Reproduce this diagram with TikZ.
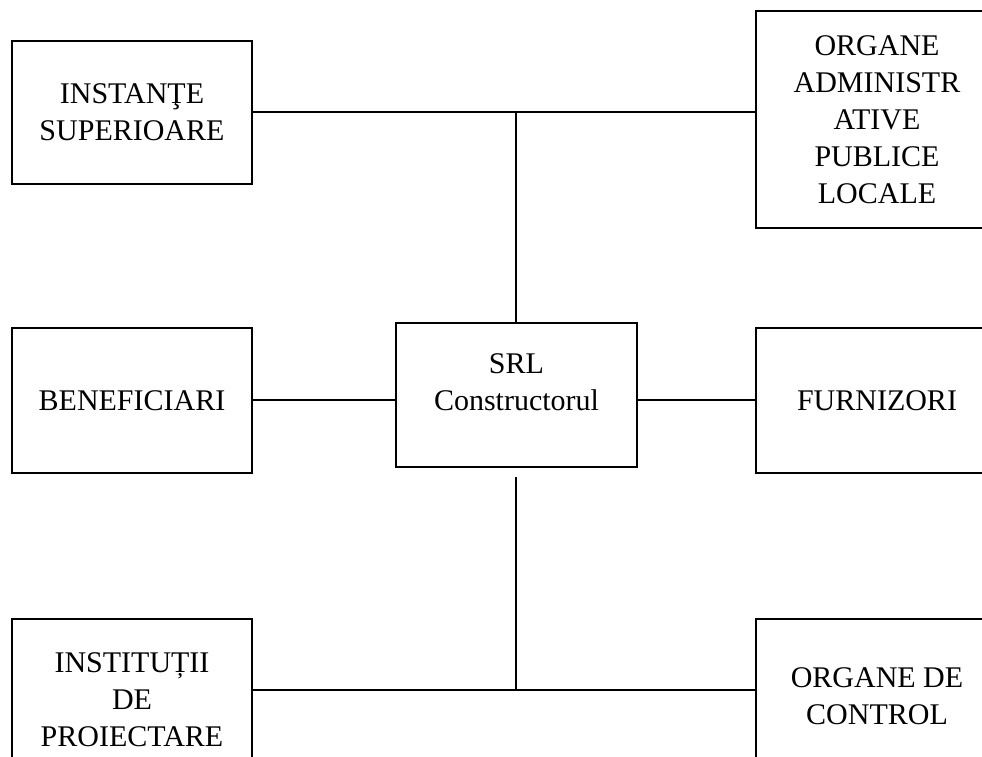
\documentclass[tikz,border=0pt]{standalone}
\usepackage{fontspec}
\setmainfont{Liberation Serif}
\begin{document}
\begin{tikzpicture}[x=1pt,y=-1pt,
  box/.style={draw=black, line width=1.4pt, rectangle, inner sep=0pt, align=center,
    font=\fontsize{30}{37}\selectfont},
  lbl/.style={inner sep=0pt, align=center, font=\fontsize{30}{37}\selectfont},
  conn/.style={draw=black, line width=1.4pt}]
\useasboundingbox (0,0) rectangle (982,757);
\clip (0,0) rectangle (982,757);
% top row
\node[box, minimum width=240pt, minimum height=143pt] (ins) at (132,112.5) {INSTANŢE\\SUPERIOARE};
\node[box, minimum width=242pt, minimum height=217pt] (oap) at (877,119.5) {ORGANE\\ADMINISTR\\ATIVE\\PUBLICE\\LOCALE};
% middle row
\node[box, minimum width=240pt, minimum height=145pt] (ben) at (132,400.5) {BENEFICIARI};
\node[box, minimum width=241pt, minimum height=144pt] (srl) at (516.5,395) {};
\node[lbl] (srltext) at (516.5,382) {SRL\\Constructorul};
\node[box, minimum width=242pt, minimum height=145pt] (fur) at (877,400.5) {FURNIZORI};
% bottom row
\node[box, minimum width=240pt, minimum height=161pt] (inp) at (132,699.5) {INSTITUȚII\\DE\\PROIECTARE};
\node[box, minimum width=242pt, minimum height=155pt] (oc) at (877,696.5) {ORGANE DE\\CONTROL};
% connectors
\coordinate (tj) at (516,112);
\coordinate (bs) at (516,477);
\coordinate (bj) at (516,690);
\draw[conn] (ins.east |- tj) -- (oap.west |- tj);
\draw[conn] (tj) -- (tj |- srl.north);
\draw[conn] (ben.east |- 0,400) -- (srl.west |- 0,400);
\draw[conn] (srl.east |- 0,400) -- (fur.west |- 0,400);
\draw[conn] (bs) -- (bj);
\draw[conn] (inp.east |- bj) -- (oc.west |- bj);
\end{tikzpicture}
\end{document}
